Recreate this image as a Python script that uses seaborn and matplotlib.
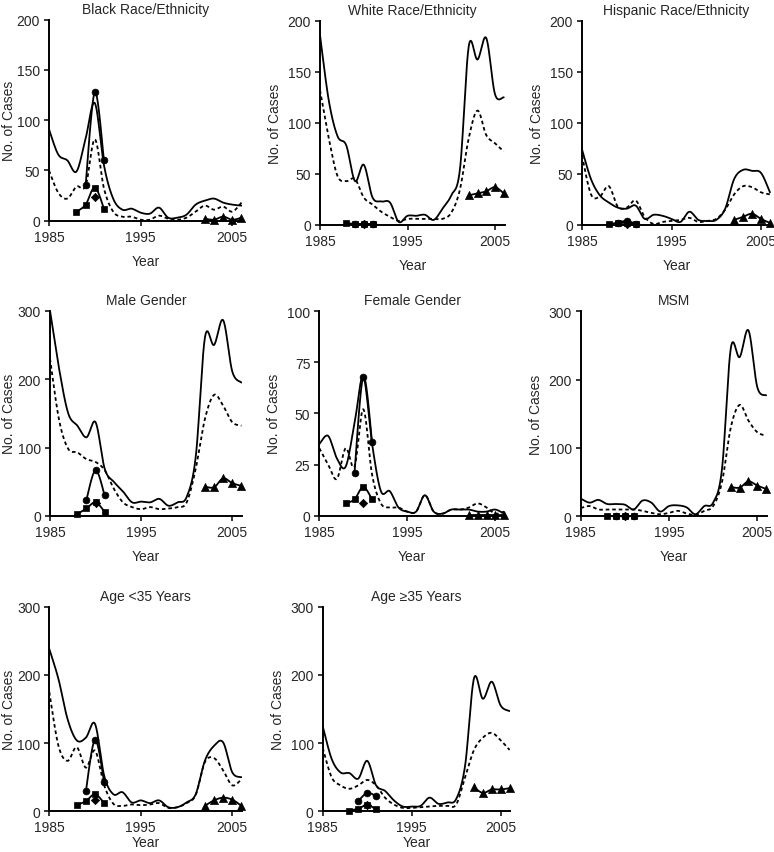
import numpy as np
import matplotlib
matplotlib.use("Agg")
import matplotlib.pyplot as plt
import seaborn as sns

# years on the x axis
years = list(range(1985, 2007))
square_years = [1988, 1989, 1990, 1991]
circle_years = [1989, 1990, 1991]
diamond_years = [1990]
triangle_years = [2002, 2003, 2004, 2005, 2006]

# Black race/ethnicity
black_solid = [91, 66, 60, 49, 82, 117, 55, 22, 11, 12, 8, 7, 13, 3, 3, 6, 16, 20, 22, 18, 16, 15]
black_dash = [50, 28, 22, 34, 35, 81, 32, 9, 4, 4, 1, 1, 5, 2, 1, 3, 9, 15, 11, 14, 9, 18]
black_circle = [36, 128, 60]
black_square = [9, 16, 33, 12]
black_diamond = [24]
black_triangle = [2, 1, 4, 1, 3]

# White race/ethnicity
white_solid = [186, 122, 87, 78, 43, 59, 27, 23, 22, 3, 9, 9, 10, 5, 16, 29, 55, 175, 162, 183, 128, 125]
white_dash = [132, 85, 48, 43, 45, 27, 20, 13, 8, 4, 6, 6, 6, 6, 6, 12, 35, 85, 112, 88, 80, 72]
white_circle = [1, 1, 1]
white_square = [2, 1, 1, 1]
white_diamond = [1]
white_triangle = [29, 31, 33, 37, 31]

# Hispanic race/ethnicity
hisp_solid = [74, 45, 29, 22, 17, 16, 19, 6, 10, 9, 6, 3, 13, 5, 4, 5, 16, 45, 54, 53, 51, 32]
hisp_dash = [68, 30, 28, 38, 18, 17, 24, 8, 1, 3, 4, 5, 7, 3, 4, 6, 15, 30, 38, 37, 32, 30]
hisp_circle = [2, 4, 1]
hisp_square = [1, 2, 2, 1]
hisp_diamond = [1]
hisp_triangle = [5, 8, 11, 6, 2]

# Male gender
male_solid = [300, 215, 150, 132, 115, 137, 69, 50, 36, 20, 21, 20, 25, 15, 20, 28, 88, 261, 250, 286, 211, 195]
male_dash = [230, 140, 98, 93, 83, 79, 67, 40, 20, 13, 10, 13, 10, 11, 13, 20, 70, 142, 177, 161, 137, 132]
male_circle = [24, 67, 30]
male_square = [3, 11, 20, 6]
male_diamond = [19]
male_triangle = [43, 42, 55, 48, 44]

# Female gender
female_solid = [35, 39, 28, 24, 45, 68, 35, 12, 12, 4, 2, 2, 10, 2, 1, 3, 3, 3, 2, 2, 3, 1]
female_dash = [33, 25, 18, 33, 24, 52, 20, 6, 4, 4, 2, 2, 10, 2, 1, 3, 3, 4, 6, 4, 1, 2]
female_circle = [21, 68, 36]
female_square = [6, 8, 14, 8]
female_diamond = [6]
female_triangle = [0.5, 0.5, 0.5, 0.5, 0.5]

# MSM
msm_solid = [26, 20, 24, 18, 18, 17, 10, 23, 20, 7, 15, 16, 13, 3, 15, 20, 69, 246, 233, 272, 189, 177]
msm_dash = [12, 15, 10, 10, 10, 10, 10, 8, 5, 3, 5, 8, 4, 2, 8, 15, 50, 130, 163, 140, 123, 118]
msm_circle = [1, 1, 1]
msm_square = [1, 1, 1, 1]
msm_diamond = [1]
msm_triangle = [43, 42, 51, 45, 40]

# Age < 35 years
young_solid = [238, 194, 135, 104, 108, 128, 52, 25, 28, 13, 16, 12, 16, 6, 6, 13, 25, 74, 96, 101, 57, 50]
young_dash = [175, 96, 74, 94, 64, 89, 38, 11, 8, 10, 9, 10, 12, 5, 6, 12, 24, 72, 78, 60, 38, 47]
young_circle = [30, 105, 43]
young_square = [9, 15, 25, 12]
young_diamond = [17]
young_triangle = [8, 16, 20, 17, 8]

# Age >= 35 years
old_solid = [125, 77, 57, 56, 48, 74, 38, 30, 16, 7, 7, 8, 20, 11, 13, 18, 67, 195, 165, 190, 155, 147]
old_dash = [93, 50, 38, 33, 38, 46, 38, 20, 10, 5, 5, 6, 7, 8, 8, 10, 50, 90, 108, 115, 104, 90]
old_circle = [15, 27, 22]
old_square = [1, 4, 9, 3]
old_diamond = [9]
old_triangle = [35, 27, 32, 32, 34]

titles = ["Black Race/Ethnicity", "White Race/Ethnicity", "Hispanic Race/Ethnicity",
          "Male Gender", "Female Gender", "MSM",
          "Age <35 Years", "Age \u226535 Years"]
y_max = [200, 200, 200, 300, 100, 300, 300, 300]
y_ticks = [[0, 50, 100, 150, 200]] * 3 + [[0, 100, 200, 300], [0, 25, 50, 75, 100],
                                         [0, 100, 200, 300], [0, 100, 200, 300], [0, 100, 200, 300]]
series = [
    (black_solid, black_dash, black_circle, black_square, black_diamond, black_triangle),
    (white_solid, white_dash, white_circle, white_square, white_diamond, white_triangle),
    (hisp_solid, hisp_dash, hisp_circle, hisp_square, hisp_diamond, hisp_triangle),
    (male_solid, male_dash, male_circle, male_square, male_diamond, male_triangle),
    (female_solid, female_dash, female_circle, female_square, female_diamond, female_triangle),
    (msm_solid, msm_dash, msm_circle, msm_square, msm_diamond, msm_triangle),
    (young_solid, young_dash, young_circle, young_square, young_diamond, young_triangle),
    (old_solid, old_dash, old_circle, old_square, old_diamond, old_triangle),
]

# axes boxes in pixels: x of 1985, x of 2005, y of top, y of zero
boxes = [
    (49, 232.3, 20.7, 221.7), (320, 495, 21.7, 226), (582, 761, 21.7, 226),
    (50, 232.3, 311.7, 517), (319.3, 495.3, 312, 516.7), (580.7, 757.3, 312.3, 517.3),
    (49.3, 232.3, 607.7, 812.3), (322.7, 500.7, 607.7, 812.3),
]

W, H = 774, 853
X_END = 2006.1


def smooth(x, y, n=20):
    # Excel-style smoothed line (Catmull-Rom through the data points)
    x = np.asarray(x, float)
    y = np.asarray(y, float)
    if len(x) < 3:
        return x, y
    px = np.concatenate([[x[0]], x, [x[-1]]])
    py = np.concatenate([[y[0]], y, [y[-1]]])
    t = np.linspace(0, 1, n, endpoint=False)[:, None]
    xs, ys = [], []
    for i in range(1, len(px) - 2):
        for p, out in ((px, xs), (py, ys)):
            b0 = p[i]
            b1 = p[i] + (p[i + 1] - p[i - 1]) / 6
            b2 = p[i + 1] - (p[i + 2] - p[i]) / 6
            b3 = p[i + 1]
            out.append(((1 - t) ** 3 * b0 + 3 * (1 - t) ** 2 * t * b1
                        + 3 * (1 - t) * t ** 2 * b2 + t ** 3 * b3).ravel())
    xs = np.concatenate(xs + [[x[-1]]])
    ys = np.concatenate(ys + [[y[-1]]])
    return xs, ys


sns.set_style("ticks")
plt.rcParams['font.family'] = ['Liberation Sans', 'DejaVu Sans']
plt.rcParams['font.size'] = 10

fig = plt.figure(figsize=(W / 100, H / 100), dpi=100)

for title, ymax, ticks, data, box in zip(titles, y_max, y_ticks, series, boxes):
    x0, x2005, ytop, yzero = box
    per_year = (x2005 - x0) / 20
    x_end = x0 + per_year * (X_END - 1985)
    ax_w, ax_h = x_end - x0, yzero - ytop
    ax = fig.add_axes([x0 / W, 1 - yzero / H, ax_w / W, ax_h / H])
    solid, dash, circ, sq, dia, tri = data

    sx, sy = smooth(years, solid)
    sns.lineplot(x=sx, y=sy, ax=ax, color='black', lw=1.3, sort=False, estimator=None)
    dx, dy = smooth(years, dash)
    sns.lineplot(x=dx, y=dy, ax=ax, color='black', lw=1.3, sort=False, estimator=None,
                 linestyle=(0, (2, 1.6)))

    for yrs, vals, mk, size in ((circle_years, circ, 'o', 24),
                                (square_years, sq, 's', 24),
                                (triangle_years, tri, '^', 34)):
        mx, my = smooth(yrs, vals)
        sns.lineplot(x=mx, y=my, ax=ax, color='black', lw=1.3, sort=False, estimator=None)
        sns.scatterplot(x=yrs, y=vals, ax=ax, marker=mk, s=size, color='black',
                        edgecolor='black', linewidth=0.5, zorder=3, clip_on=False)
    sns.scatterplot(x=diamond_years, y=dia, ax=ax, marker='D', s=18, color='black',
                    edgecolor='black', linewidth=0.5, zorder=3, clip_on=False)

    ax.set_xlim(1985, X_END)
    ax.set_ylim(0, ymax)
    ax.set_xticks([1985, 1995, 2005])
    ax.set_yticks(ticks)
    ax.set_title(title, fontsize=10, pad=5)
    ax.set_xlabel('Year', fontsize=10)
    ax.set_ylabel('No. of Cases', fontsize=10)
    # label positions in pixels, kept inside the image
    ylab_right = max(x0 - 38, 16)
    ax.yaxis.set_label_coords((ylab_right - x0) / ax_w, 0.5)
    xlab_top = min(yzero + 33, 836)
    ax.xaxis.set_label_coords(0.5, -(xlab_top - yzero) / ax_h)
    ax.tick_params(axis='both', labelsize=10, width=1.1, length=3.5, pad=3, color='black')
    for side in ('left', 'bottom'):
        ax.spines[side].set_linewidth(1.4)
        ax.spines[side].set_color('black')
    sns.despine(ax=ax)
    ax.set_facecolor('white')

fig.savefig('out.png', dpi=100, facecolor='white')
